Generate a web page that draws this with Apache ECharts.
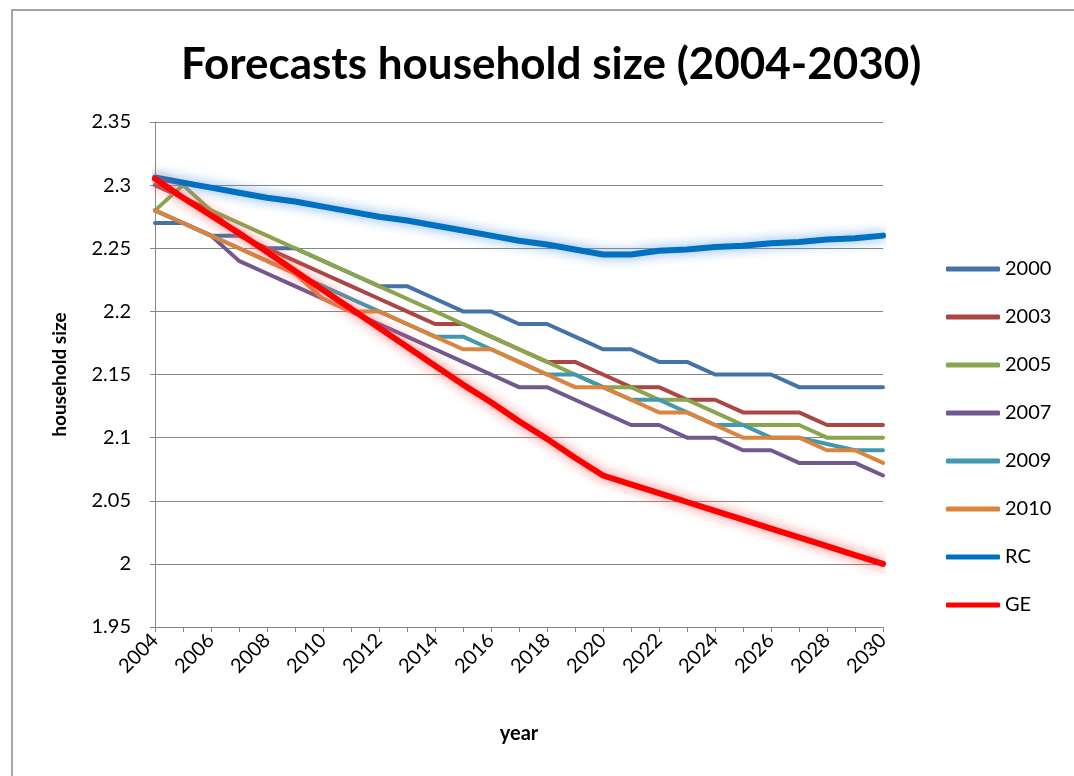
<!DOCTYPE html>
<html>
<head>
<meta charset="utf-8">
<script src="https://cdn.jsdelivr.net/npm/echarts@6/dist/echarts.min.js"></script>
<style>html,body{margin:0;padding:0;background:#fff}#c{width:1074px;height:776px}</style>
</head>
<body>
<div id="c"></div>
<script>
var years = ['2004','2005','2006','2007','2008','2009','2010','2011','2012','2013','2014','2015','2016','2017','2018','2019','2020','2021','2022','2023','2024','2025','2026','2027','2028','2029','2030'];
var s2000 = [2.27,2.27,2.26,2.26,2.25,2.25,2.24,2.23,2.22,2.22,2.21,2.20,2.20,2.19,2.19,2.18,2.17,2.17,2.16,2.16,2.15,2.15,2.15,2.14,2.14,2.14,2.14];
var s2003 = [2.30,2.29,2.28,2.26,2.25,2.24,2.23,2.22,2.21,2.20,2.19,2.19,2.18,2.17,2.16,2.16,2.15,2.14,2.14,2.13,2.13,2.12,2.12,2.12,2.11,2.11,2.11];
var s2005 = [2.28,2.30,2.28,2.27,2.26,2.25,2.24,2.23,2.22,2.21,2.20,2.19,2.18,2.17,2.16,2.15,2.14,2.14,2.13,2.13,2.12,2.11,2.11,2.11,2.10,2.10,2.10];
var s2007 = [2.28,2.27,2.26,2.24,2.23,2.22,2.21,2.20,2.19,2.18,2.17,2.16,2.15,2.14,2.14,2.13,2.12,2.11,2.11,2.10,2.10,2.09,2.09,2.08,2.08,2.08,2.07];
var s2009 = [2.28,2.27,2.26,2.25,2.24,2.23,2.22,2.21,2.20,2.19,2.18,2.18,2.17,2.16,2.15,2.15,2.14,2.13,2.13,2.12,2.11,2.11,2.10,2.10,2.095,2.09,2.09];
var s2010 = [2.28,2.27,2.26,2.25,2.24,2.23,2.21,2.20,2.20,2.19,2.18,2.17,2.17,2.16,2.15,2.14,2.14,2.13,2.12,2.12,2.11,2.10,2.10,2.10,2.09,2.09,2.08];
var sRC = [2.306,2.302,2.298,2.294,2.290,2.287,2.283,2.279,2.275,2.272,2.268,2.264,2.260,2.256,2.253,2.249,2.245,2.245,2.248,2.249,2.251,2.252,2.254,2.255,2.257,2.258,2.260];
var sGE = [2.305,2.290,2.276,2.262,2.247,2.232,2.217,2.202,2.187,2.172,2.157,2.142,2.128,2.113,2.099,2.084,2.070,2.063,2.056,2.049,2.042,2.035,2.028,2.021,2.014,2.007,2.000];
var yTicks = {min: 1.95, max: 2.35, step: 0.05};

var FONT = 'Lato';
function mk(name, data, color, width, glow) {
  var ls = {color: color, width: width, cap: 'round', join: 'round'};
  if (glow) { ls.shadowColor = glow; ls.shadowBlur = 12; ls.shadowOffsetX = 0; ls.shadowOffsetY = 0; }
  return {name: name, type: 'line', data: data, symbol: 'none', showSymbol: false,
          itemStyle: {color: color}, lineStyle: ls, emphasis: {disabled: true}, animation: false};
}
var chart = echarts.init(document.getElementById('c'), null, {renderer: 'canvas'});
chart.setOption({
  backgroundColor: '#fff',
  animation: false,
  graphic: [{type: 'rect', shape: {x: 12, y: 10, width: 1100, height: 800},
             style: {fill: 'none', stroke: '#888', lineWidth: 1.5}, silent: true}],
  title: {text: 'Forecasts household size (2004-2030)', left: 176, top: 38,
          textStyle: {fontFamily: FONT, fontWeight: 'bold', fontSize: 44, color: '#000'}},
  legend: {orient: 'vertical', left: 946, top: 259, itemGap: 28, itemWidth: 54, itemHeight: 5, padding: 0,
           icon: 'roundRect', textStyle: {fontFamily: FONT, fontSize: 20, color: '#000'},
           data: ['2000','2003','2005','2007','2009','2010','RC','GE']},
  grid: {left: 155, right: 191, top: 122, bottom: 149, containLabel: false},
  xAxis: {type: 'category', data: years, boundaryGap: false,
          name: 'year', nameLocation: 'middle', nameGap: 97,
          nameTextStyle: {fontFamily: FONT, fontWeight: 'bold', fontSize: 20, color: '#000'},
          axisLine: {lineStyle: {color: '#868686', width: 1}},
          axisTick: {show: true, interval: 0, length: 5, lineStyle: {color: '#868686'}},
          axisLabel: {interval: 1, rotate: 45, fontFamily: FONT, fontSize: 20, color: '#000', margin: 10},
          splitLine: {show: false}},
  yAxis: {type: 'value', min: yTicks.min, max: yTicks.max, interval: yTicks.step,
          name: 'household size', nameLocation: 'middle', nameGap: 86, nameRotate: 90,
          nameTextStyle: {fontFamily: FONT, fontWeight: 'bold', fontSize: 19, color: '#000'},
          axisLine: {show: true, lineStyle: {color: '#868686', width: 1}},
          axisTick: {show: true, length: 5, lineStyle: {color: '#868686'}},
          axisLabel: {fontFamily: FONT, fontSize: 20, color: '#000', margin: 24,
                      formatter: function (v) { return String(+v.toFixed(2)); }},
          splitLine: {show: true, lineStyle: {color: '#868686', width: 1}}},
  series: [
    mk('2000', s2000, '#4572A7', 4),
    mk('2003', s2003, '#AA4643', 4),
    mk('2005', s2005, '#89A54E', 4),
    mk('2007', s2007, '#71588F', 4),
    mk('2009', s2009, '#4198AF', 4),
    mk('2010', s2010, '#DB843D', 4),
    mk('RC', sRC, '#0070C0', 6, 'rgba(90,155,235,0.9)'),
    mk('GE', sGE, '#FF0000', 6, 'rgba(255,90,90,0.9)')
  ]
});
</script>
</body>
</html>
